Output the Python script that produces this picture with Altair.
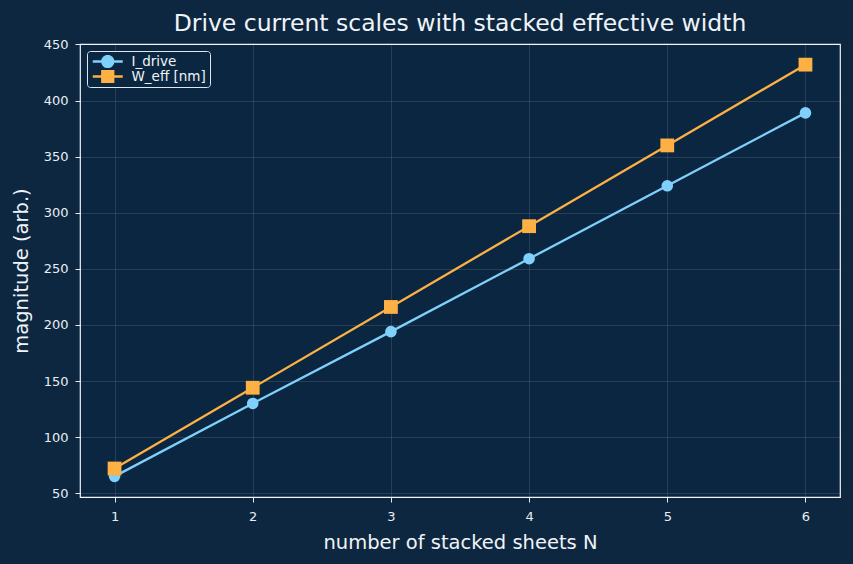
import altair as alt
import pandas as pd

N = [1, 2, 3, 4, 5, 6]
i_drive = [65, 130, 194, 259, 324, 389]
w_eff = [72, 144, 216, 288, 360, 432]
series = ["I_drive", "W_eff [nm]"]
colors = ["#7fd0fb", "#fdb144"]
y_ticks = [50, 100, 150, 200, 250, 300, 350, 400, 450]

df = pd.DataFrame({
    "N": N * 2,
    "value": i_drive + w_eff,
    "series": [series[0]] * len(N) + [series[1]] * len(N),
})

FONT = "DejaVu Sans"
BG = "#0d2740"
PLOT_BG = "#0b2640"

x = alt.X("N:Q", scale=alt.Scale(domain=[0.75, 6.25], nice=False, zero=False),
          axis=alt.Axis(values=N, format="d", title="number of stacked sheets N"))
y = alt.Y("value:Q", scale=alt.Scale(domain=[46.6, 450.4], nice=False, zero=False),
          axis=alt.Axis(values=y_ticks, format="d", title="magnitude (arb.)"))
cscale = alt.Scale(domain=series, range=colors)

base = alt.Chart(df)
layers = []
for s, c, shp, sz in zip(series, colors, ["circle", "square"], [135, 190]):
    sub = base.transform_filter(alt.datum.series == s)
    layers.append(sub.mark_line(strokeWidth=2.3, color=c).encode(x=x, y=y))
    layers.append(sub.mark_point(shape=shp, filled=True, size=sz, opacity=1, color=c).encode(x=x, y=y))

path_circle = "M-1,0H5M0.9,0A1.1,1.1,0,1,1,3.1,0A1.1,1.1,0,1,1,0.9,0Z"
path_square = "M-1,0H5M0.9,-1.1H3.1V1.1H0.9Z"

leg = alt.Legend(title=None, orient="top-left", offset=7, padding=4,
                 strokeColor="#dfe6ee", fillColor=PLOT_BG, cornerRadius=3,
                 labelColor="#f0f4f8", labelFont=FONT, labelFontSize=13.5,
                 symbolSize=100, symbolStrokeWidth=2.3, symbolOpacity=1,
                 rowPadding=1, labelOffset=27, clipHeight=13)

legend_layer = base.mark_point(opacity=0, filled=False).encode(
    x=x, y=y,
    shape=alt.Shape("series:N", scale=alt.Scale(domain=series, range=[path_circle, path_square]), legend=leg),
    fill=alt.Fill("series:N", scale=cscale, legend=leg),
    stroke=alt.Stroke("series:N", scale=cscale, legend=leg),
)
layers.append(legend_layer)

chart = alt.layer(*layers).properties(
    width=760, height=453,
    autosize=alt.AutoSizeParams(type="none"),
    padding={"left": 80, "top": 44, "right": 13, "bottom": 67},
    background=BG,
    title=alt.TitleParams("Drive current scales with stacked effective width",
                          font=FONT, fontSize=23.5, fontWeight="normal",
                          color="#f0f4f8", offset=3, anchor="middle"),
).configure_view(
    fill=PLOT_BG, stroke="#f0f4f8", strokeWidth=1.2
).configure_axis(
    labelFont=FONT, labelFontSize=13, labelColor="#e8eef4",
    titleFont=FONT, titleFontSize=19.5, titleFontWeight="normal", titleColor="#f0f4f8",
    tickColor="#e8eef4", tickSize=5, domain=False,
    gridColor="#ffffff", gridOpacity=0.15, gridWidth=0.8,
).configure_axisX(titlePadding=10, labelPadding=8).configure_axisY(titlePadding=12, labelPadding=7)

chart.save("out.html", embed_options={"renderer": "svg", "actions": False})
